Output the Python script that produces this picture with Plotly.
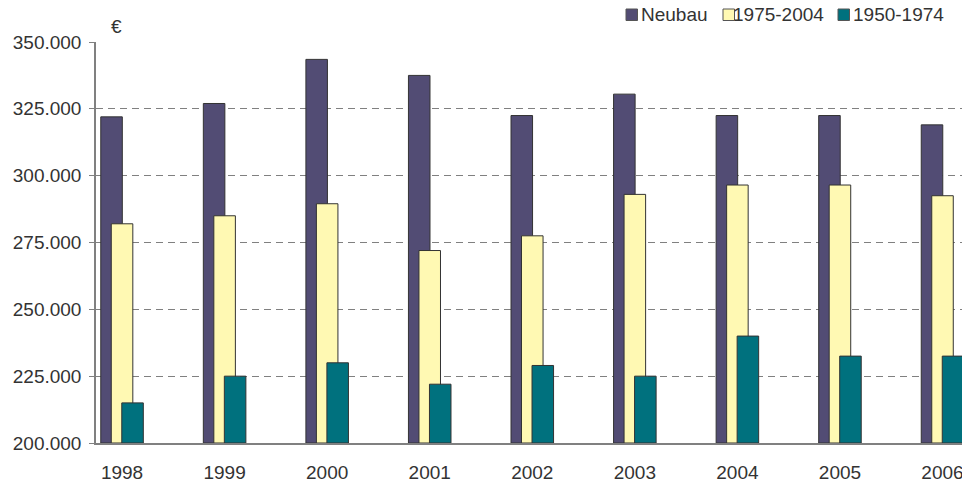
import plotly.graph_objects as go

years = ["1998", "1999", "2000", "2001", "2002", "2003", "2004", "2005", "2006"]
neubau = [322000, 327000, 343500, 337500, 322500, 330500, 322500, 322500, 319000]
bj_1975_2004 = [282000, 285000, 289500, 272000, 277500, 293000, 296500, 296500, 292500]
bj_1950_1974 = [215000, 225000, 230000, 222000, 229000, 225000, 240000, 232500, 232500]

series_names = ["Neubau", "1975-2004", "1950-1974"]
series_colors = ["#524C74", "#FFF9B3", "#00717E"]

y_ticks = [200000, 225000, 250000, 275000, 300000, 325000, 350000]
y_ticktext = ["200.000", "225.000", "250.000", "275.000", "300.000", "325.000", "350.000"]

W, H = 962, 484
ML, MR, MT, MB = 96, 0, 42, 41
PW, PH = W - ML - MR, H - MT - MB


def px_x(px):
    return (px - ML) / PW


def px_y(py):
    return (H - MB - py) / PH


pos = list(range(len(years)))
bar_w = 0.21
step = 0.1024
offsets = [-step, 0.0, step]
values = [neubau, bj_1975_2004, bj_1950_1974]

font_family = "Liberation Sans, Arial, sans-serif"
fig = go.Figure()
for name, vals, color, off in zip(series_names, values, series_colors, offsets):
    fig.add_trace(go.Bar(
        name=name,
        x=[p + off for p in pos],
        y=[v - 200000 for v in vals],
        base=200000,
        width=bar_w,
        marker=dict(color=color, line=dict(color="#333333", width=1)),
        hovertemplate="%{y}<extra>" + name + "</extra>",
        showlegend=False,
    ))

# custom legend (square + label), laid out in pixels
legend_sq_left = [626, 723, 838]
legend_txt_left = [640, 732, 852]
shapes = []
annotations = []
for name, color, sx, tx in zip(series_names, series_colors, legend_sq_left, legend_txt_left):
    shapes.append(dict(
        type="rect", xref="paper", yref="paper",
        x0=px_x(sx), x1=px_x(sx + 11.5), y0=px_y(20.5), y1=px_y(9),
        fillcolor=color, line=dict(color="#555555", width=1),
    ))
    annotations.append(dict(
        text=name, xref="paper", yref="paper", x=px_x(tx), y=px_y(14.5),
        xanchor="left", yanchor="middle", showarrow=False, borderpad=0,
        font=dict(size=19, color="#333333"),
    ))

annotations.append(dict(
    text="€", xref="paper", yref="paper", x=0, y=1,
    xanchor="left", yanchor="bottom", xshift=13, yshift=3,
    showarrow=False, font=dict(size=19, color="#333333"),
))

fig.update_layout(
    width=W, height=H,
    margin=dict(l=ML, r=MR, t=MT, b=MB, autoexpand=False),
    barmode="overlay",
    plot_bgcolor="white", paper_bgcolor="white",
    font=dict(family=font_family, size=19, color="#333333"),
    showlegend=False,
    xaxis=dict(
        range=[-0.254, 8.19],
        tickvals=pos, ticktext=years,
        showgrid=False, zeroline=False, automargin=False,
        showline=True, linecolor="#808080", linewidth=1.5,
        ticks="", ticklabelstandoff=11, ticklabeloverflow="allow",
        tickfont=dict(size=19, color="#333333"),
    ),
    yaxis=dict(
        range=[200000, 350000],
        tickvals=y_ticks, ticktext=y_ticktext, automargin=False,
        showgrid=True, gridcolor="#808080", gridwidth=1, griddash="7px,5px",
        zeroline=False,
        showline=True, linecolor="#808080", linewidth=1.5,
        ticks="outside", ticklen=5, tickcolor="#808080",
        ticklabelstandoff=4,
        tickfont=dict(size=19, color="#333333"),
    ),
    shapes=shapes,
    annotations=annotations,
)

fig.write_html(
    "out.html",
    config={"displayModeBar": False},
    post_script="document.body.style.margin='0px';",
)
